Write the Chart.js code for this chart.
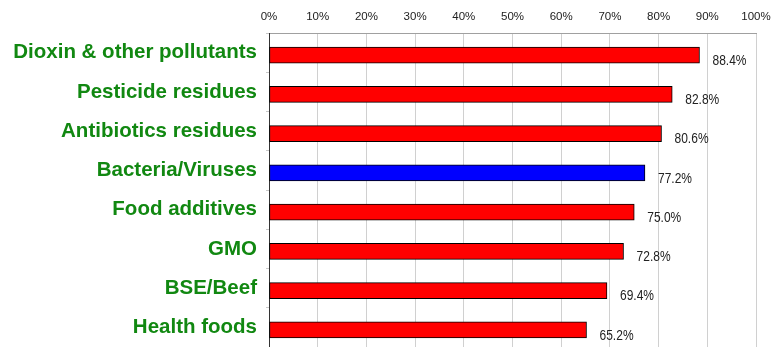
<!DOCTYPE html>
<html><head><meta charset="utf-8">
<script src="https://cdn.jsdelivr.net/npm/chart.js@4/dist/chart.umd.min.js"></script>
<style>html,body{margin:0;padding:0;background:#fff;}#wrap{width:775px;height:347px;position:relative;}</style>
</head><body><div id="wrap"><canvas id="c"></canvas></div>
<script>
const categories = ["Dioxin & other pollutants","Pesticide residues","Antibiotics residues","Bacteria/Viruses","Food additives","GMO","BSE/Beef","Health foods"];
const values = [88.4, 82.8, 80.6, 77.2, 75.0, 72.8, 69.4, 65.2];
const highlight = [false, false, false, true, false, false, false, false];
const tickValues = [0,10,20,30,40,50,60,70,80,90,100];

const BAR_SHIFT = 2.5;
const valueLabels = {
  id: 'valueLabels',
  beforeDatasetsDraw(chart) {
    chart.ctx.save();
    chart.ctx.translate(0, BAR_SHIFT);
  },
  afterDatasetsDraw(chart) {
    const ctx = chart.ctx;
    ctx.restore();
    const meta = chart.getDatasetMeta(0);
    ctx.save();
    ctx.font = '12px "Liberation Sans", Arial, sans-serif';
    ctx.fillStyle = '#222';
    ctx.textAlign = 'left';
    ctx.textBaseline = 'middle';
    meta.data.forEach((bar, i) => {
      const tx = bar.x + 13, ty = bar.y + BAR_SHIFT + 6;
      ctx.save();
      ctx.translate(tx, ty);
      ctx.scale(1, 1.15);
      ctx.fillText(values[i].toFixed(1) + '%', 0, 0);
      ctx.restore();
    });
    ctx.restore();
  }
};

new Chart(document.getElementById('c'), {
  type: 'bar',
  data: {
    labels: categories,
    datasets: [{
      data: values,
      backgroundColor: highlight.map(h => h ? '#0000ff' : '#ff0000'),
      borderColor: '#000',
      borderWidth: 1,
      borderSkipped: false,
      barThickness: 16
    }]
  },
  options: {
    indexAxis: 'y',
    responsive: true,
    maintainAspectRatio: false,
    animation: false,
    layout: { padding: { left: 0, right: 19, top: 0, bottom: 0 } },
    plugins: { legend: { display: false }, tooltip: { enabled: false } },
    scales: {
      x: {
        position: 'top',
        min: 0, max: 100,
        afterBuildTicks(scale) { scale.ticks = tickValues.map(v => ({ value: v })); },
        afterFit(scale) { scale.height = 33; scale.paddingLeft = 0; scale.paddingRight = 0; },
        ticks: {
          padding: 9,
          color: '#222',
          font: { family: '"Liberation Sans", Arial, sans-serif', size: 11.5 },
          callback: v => v + '%',
          maxRotation: 0
        },
        grid: { color: '#d0d0d0', drawTicks: false, lineWidth: 1 },
        border: { color: '#a0a0a0' }
      },
      y: {
        afterFit(scale) { scale.width = 269; scale.paddingTop = 0; scale.paddingBottom = 0; },
        ticks: {
          padding: 9,
          color: '#118811',
          font: { family: '"Liberation Sans", Arial, sans-serif', size: 20.5, weight: 'bold' }
        },
        grid: { drawOnChartArea: false, drawTicks: true, tickLength: 3, color: '#c8c8c8', offset: true },
        border: { color: '#333' }
      }
    }
  },
  plugins: [valueLabels]
});
</script></body></html>
